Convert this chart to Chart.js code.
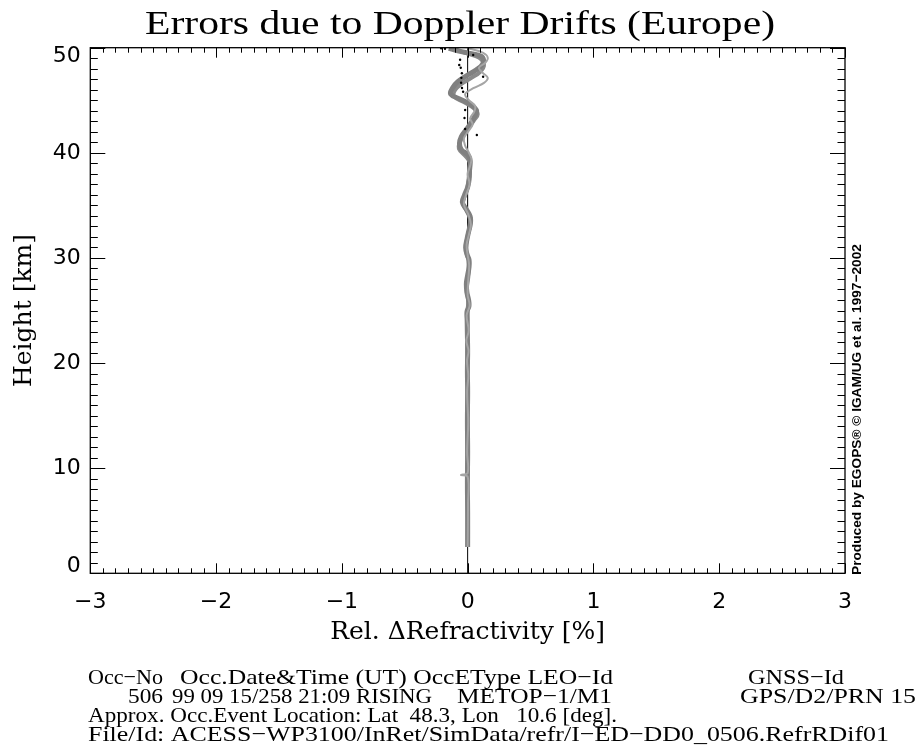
<!DOCTYPE html>
<html>
<head>
<meta charset="utf-8">
<title>Errors due to Doppler Drifts (Europe)</title>
<script src="https://cdn.jsdelivr.net/npm/chart.js@4.4.1/dist/chart.umd.min.js"></script>
<style>
  html, body { margin: 0; padding: 0; background: #fff; }
  #wrap { position: relative; width: 920px; height: 756px; }
</style>
</head>
<body>
<div id="wrap"><canvas id="dopplerChart" width="920" height="756"></canvas></div>
<script>
// Tick labels on both axes
const xTicks = [-3, -2, -1, 0, 1, 2, 3];
const yTicks = [0, 10, 20, 30, 40, 50];

// Profile 1 (thick): height [km] and relative refractivity error [%]
const heightsA = [49.95, 49.63, 49.34, 49.05, 48.47, 47.90, 47.32, 46.74, 46.17, 45.59, 45.11, 44.63, 44.05, 43.57,
  42.90, 42.22, 41.55, 40.88, 40.30, 39.82, 39.24, 38.47, 37.51, 36.74, 35.97, 35.30, 34.62, 33.95, 33.28, 32.51,
  31.74, 30.97, 30.30, 29.82, 29.14, 28.37, 27.60, 26.74, 25.97, 25.39, 24.91, 24.05, 22.60, 21.16, 19.24, 17.31,
  14.43, 11.54, 8.66, 5.77, 2.5];
const driftA = [-0.15, -0.05, 0.07, 0.12, 0.12, 0.07, -0.01, -0.08, -0.12, -0.135, -0.06, 0.02, 0.07, 0.06,
  0.03, -0.01, -0.05, -0.065, -0.05, 0.0, 0.02, 0.015, 0.012, 0.0, -0.025, -0.042, -0.01, 0.02, 0.022, 0.008,
  -0.006, -0.016, -0.004, 0.011, 0.011, 0.0, -0.01, -0.006, 0.008, 0.01, -0.005, -0.004, -0.002, 0.0, -0.002, 0.0,
  -0.002, 0.0, -0.002, 0.0, 0.0];

// Profile 2 (thick)
const heightsB = [49.82, 49.44, 49.05, 48.38, 47.71, 47.13, 46.55, 45.97, 45.40, 44.82, 44.24, 43.67, 43.09, 42.42,
  41.74, 41.07, 40.40, 39.72, 39.15, 38.47, 37.51, 36.54, 35.78, 35.11, 34.43, 33.66, 32.89, 32.12, 31.26, 30.49,
  29.82, 28.85, 27.89, 26.93, 25.97, 25.01, 22.12, 18.27, 12.50, 6.73, 2.5];
const driftB = [-0.1, 0.0, 0.09, 0.13, 0.1, 0.03, -0.05, -0.1, -0.11, -0.03, 0.05, 0.08, 0.05, 0.01,
  -0.03, -0.06, -0.07, -0.02, 0.015, 0.02, 0.01, -0.005, -0.028, -0.036, -0.005, 0.02, 0.016, 0.0, -0.012, -0.01,
  0.006, 0.01, 0.002, -0.008, 0.004, 0.0, -0.003, 0.0, -0.003, 0.0, 0.0];

// Profile 3 (thin)
const heightsC = [49.95, 49.53, 49.05, 48.57, 48.09, 47.61, 47.13, 46.65, 46.17, 45.59, 45.01, 44.44, 43.86, 43.28,
  42.70, 42.13, 41.36, 40.68, 40.01, 39.43, 38.76, 37.99, 37.03, 36.07, 35.11, 34.14, 33.18, 32.22, 31.26, 30.30,
  29.33, 27.89, 26.45, 25.49, 24.53, 23.08, 22.12, 21.16, 20.20, 18.76, 17.31, 14.43, 11.54, 9.55, 9.35, 9.18,
  6.73, 2.5];
const driftC = [0.0, 0.12, 0.16, 0.14, 0.09, 0.12, 0.16, 0.13, 0.05, -0.02, 0.01, 0.06, 0.05, 0.02,
  0.04, 0.01, -0.03, -0.02, 0.01, 0.03, 0.02, 0.0, 0.015, -0.01, -0.03, 0.005, 0.026, 0.01, -0.008, 0.0,
  0.012, 0.005, 0.0, 0.016, -0.008, 0.008, -0.01, 0.007, -0.005, 0.005, -0.004, 0.004, -0.004, 0.0, -0.054, 0.0,
  0.003, 0.0];

// Profile 4 (dotted)
const heightsD = [49.95, 49.9, 49.31, 48.86, 48.35, 48.09, 47.57, 47.24, 47.13, 46.67, 46.17, 45.81, 44.07, 43.31, 42.27, 41.70];
const driftD = [-0.21, -0.18, 0.044, -0.06, -0.067, -0.055, -0.046, 0.123, -0.05, -0.052, -0.045, -0.036, -0.02, -0.025, -0.02, 0.073];

// Zero reference line
const zeroHeights = [0, 50];
const zeroDrift = [0, 0];

function toPoints(heights, values) {
    return heights.map((h, i) => ({ x: values[i], y: h }));
}

function minusLabel(v) {
    return v < 0 ? '\u2212' + Math.abs(v) : String(v);
}

// Draw text squeezed or stretched horizontally so it spans x0..x1
function fitText(ctx, txt, x0, x1, y) {
    const w = ctx.measureText(txt).width;
    ctx.save();
    ctx.translate(x0, y);
    ctx.scale((x1 - x0) / w, 1);
    ctx.fillText(txt, 0, 0);
    ctx.restore();
}

// Frame with inward ticks on all four sides, plus the height labels
const frameTicks = {
    id: 'frameTicks',
    afterDatasetsDraw(chart) {
        const { ctx, chartArea: a, scales: { x, y } } = chart;
        ctx.save();
        ctx.strokeStyle = '#000';
        ctx.lineWidth = 1.3;
        ctx.strokeRect(a.left, a.top, a.right - a.left, a.bottom - a.top);
        ctx.lineWidth = 1;
        ctx.beginPath();
        for (let i = -30; i <= 30; i++) {
            const px = Math.round(x.getPixelForValue(i / 10)) + 0.5;
            const len = i % 10 === 0 ? 10 : 5;
            ctx.moveTo(px, a.bottom); ctx.lineTo(px, a.bottom - len);
            ctx.moveTo(px, a.top); ctx.lineTo(px, a.top + len);
        }
        for (let v = 0; v <= 50; v++) {
            const py = Math.round(y.getPixelForValue(v)) + 0.5;
            const len = v % 10 === 0 ? 15 : 7.5;
            ctx.moveTo(a.left, py); ctx.lineTo(a.left + len, py);
            ctx.moveTo(a.right, py); ctx.lineTo(a.right - len, py);
        }
        ctx.stroke();

        // end labels are pulled inside the frame
        ctx.fillStyle = '#000';
        ctx.font = '22px "DejaVu Sans"';
        ctx.textAlign = 'right';
        ctx.textBaseline = 'middle';
        yTicks.forEach((v, i) => {
            let py = y.getPixelForValue(v);
            if (i === 0) py -= 7;
            if (i === yTicks.length - 1) py += 9;
            ctx.fillText(minusLabel(v), a.left - 9.5, py);
        });
        ctx.restore();
    }
};

// Title, occultation info block and credit line
const infoText = {
    id: 'infoText',
    afterDraw(chart) {
        const ctx = chart.ctx;
        ctx.save();
        ctx.fillStyle = '#000';
        ctx.textAlign = 'left';
        ctx.textBaseline = 'alphabetic';

        ctx.font = '33px "Liberation Serif"';
        fitText(ctx, 'Errors due to Doppler Drifts (Europe)', 145, 775, 34);

        ctx.font = '22px "Liberation Serif"';
        const rows = [
            [684, [['Occ\u2212No', 88, 163], ['Occ.Date&Time (UT) OccEType LEO\u2212Id', 180, 613], ['GNSS\u2212Id', 748, 844]]],
            [703, [['506', 128, 163], ['99 09 15/258 21:09 RISING', 172, 432], ['METOP\u22121/M1', 457, 612], ['GPS/D2/PRN 15', 740, 916]]],
            [722, [['Approx. Occ.Event Location: Lat  48.3, Lon   10.6 [deg].', 88, 617]]],
            [741, [['File/Id: ACESS\u2212WP3100/InRet/SimData/refr/I\u2212ED\u2212DD0_0506.RefrRDif01', 88, 889]]]
        ];
        rows.forEach(([yPos, parts]) => {
            parts.forEach(([txt, x0, x1]) => fitText(ctx, txt, x0, x1, yPos));
        });

        ctx.translate(857, 575);
        ctx.rotate(-Math.PI / 2);
        ctx.textBaseline = 'middle';
        ctx.font = 'bold 13.7px "Liberation Sans"';
        ctx.fillText('Produced by EGOPS\u00AE \u00A9 IGAM/UG et al. 1997\u22122002', 0, 0);
        ctx.restore();
    }
};

const ctx = document.getElementById('dopplerChart').getContext('2d');
new Chart(ctx, {
    type: 'scatter',
    data: {
        datasets: [
            {
                label: 'dotted',
                data: toPoints(heightsD, driftD),
                showLine: false,
                pointRadius: 1.2,
                pointBackgroundColor: '#000',
                pointBorderWidth: 0,
                order: 0
            },
            {
                label: 'thin',
                data: toPoints(heightsC, driftC),
                showLine: true,
                borderColor: 'rgb(165,165,165)',
                borderWidth: 2,
                pointRadius: 0,
                tension: 0.35,
                order: 1
            },
            {
                label: 'thick 1',
                data: toPoints(heightsA, driftA),
                showLine: true,
                borderColor: 'rgb(128,128,128)',
                borderWidth: 5,
                pointRadius: 0,
                tension: 0.4,
                order: 2
            },
            {
                label: 'thick 2',
                data: toPoints(heightsB, driftB),
                showLine: true,
                borderColor: 'rgb(138,138,138)',
                borderWidth: 4,
                pointRadius: 0,
                tension: 0.4,
                order: 3
            },
            {
                label: 'zero',
                data: toPoints(zeroHeights, zeroDrift),
                showLine: true,
                borderColor: '#000',
                borderWidth: 1,
                pointRadius: 0,
                order: 4
            }
        ]
    },
    options: {
        responsive: false,
        animation: false,
        events: [],
        layout: { padding: { left: 0, top: 47.7, right: 75, bottom: 96 } },
        plugins: {
            legend: { display: false },
            tooltip: { enabled: false }
        },
        scales: {
            x: {
                type: 'linear',
                min: -3,
                max: 3,
                afterBuildTicks: s => { s.ticks = xTicks.map(v => ({ value: v })); },
                afterFit: s => { s.height = 86.7; },
                grid: { display: false, drawTicks: false, tickLength: 0 },
                border: { display: false },
                ticks: {
                    color: '#000',
                    font: { family: 'DejaVu Sans', size: 22 },
                    padding: 16,
                    maxRotation: 0,
                    callback: v => minusLabel(v)
                },
                title: {
                    display: true,
                    text: 'Rel. \u0394Refractivity [%]',
                    color: '#000',
                    font: { family: 'DejaVu Serif', size: 25 },
                    padding: { top: 0, bottom: 13 }
                }
            },
            y: {
                type: 'linear',
                min: 0,
                max: 50,
                afterBuildTicks: s => { s.ticks = yTicks.map(v => ({ value: v })); },
                afterFit: s => { s.width = 90.3; },
                grid: { display: false, drawTicks: false, tickLength: 0 },
                border: { display: false },
                ticks: { display: false },
                title: {
                    display: true,
                    text: 'Height [km]',
                    color: '#000',
                    font: { family: 'DejaVu Serif', size: 25 },
                    padding: { top: 9.7, bottom: 0 }
                }
            }
        }
    },
    plugins: [frameTicks, infoText]
});
</script>
</body>
</html>
